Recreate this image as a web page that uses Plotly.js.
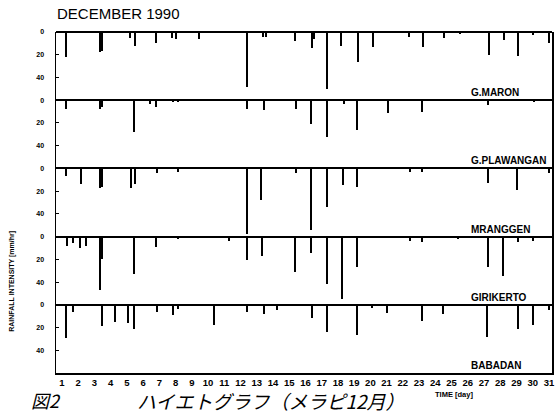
<!DOCTYPE html>
<html>
<head>
<meta charset="utf-8">
<script src="https://cdn.plot.ly/plotly-3.0.1.min.js"></script>
<style>html,body{margin:0;padding:0;background:#fff;}#chart{width:555px;height:416px;}</style>
</head>
<body>
<div id="chart"></div>
<script>
// Station names (top to bottom)
var stations = ["G.MARON", "G.PLAWANGAN", "MRANGGEN", "GIRIKERTO", "BABADAN"];
// Day labels on time axis
var dayLabels = [];
for (var d = 1; d <= 31; d++) dayLabels.push(d);

// Rainfall intensity [mm/hr] at times (days, December 1990)
var maronT = [1.23, 3.34, 3.46, 5.19, 5.50, 6.79, 7.78, 8.02, 9.44, 12.40, 13.38, 13.57, 15.36, 16.40, 16.50, 17.33, 18.17, 19.24, 20.16, 22.38, 23.24, 24.54, 25.52, 27.31, 28.23, 29.10, 30.02, 31.01];
var maronV = [22, 18, 17, 5, 12, 10, 5, 6, 6, 48, 4, 4, 8, 14, 6, 50, 12, 26, 13, 4, 13, 5, 2, 20, 7, 21, 3, 10];

var plawT = [1.23, 3.34, 3.45, 5.45, 6.42, 6.79, 7.84, 8.15, 12.38, 13.45, 15.42, 16.32, 17.33, 18.37, 19.18, 21.07, 23.18, 25.21, 27.25, 30.08];
var plawV = [8, 8, 6, 28, 3, 6, 2, 2, 8, 9, 8, 21, 32, 3, 26, 11, 10, 1, 4, 2];

var mranT = [1.23, 2.17, 3.36, 3.46, 5.25, 5.50, 6.83, 8.15, 12.38, 13.26, 15.42, 16.32, 17.31, 18.30, 19.18, 22.44, 23.18, 27.25, 29.03, 31.00];
var mranV = [7, 14, 17, 16, 17, 14, 4, 3, 58, 28, 4, 54, 34, 15, 16, 3, 3, 13, 19, 4];

var giriT = [1.29, 1.66, 2.11, 2.48, 3.34, 3.47, 5.44, 6.77, 8.15, 11.31, 12.38, 13.30, 15.36, 16.32, 17.31, 18.27, 19.18, 22.44, 23.20, 25.40, 27.27, 28.15, 29.10, 30.02];
var giriV = [8, 6, 10, 8, 47, 20, 33, 9, 2, 4, 21, 17, 31, 14, 42, 55, 27, 4, 5, 2, 27, 35, 5, 4];

var babaT = [1.23, 1.66, 3.45, 4.27, 5.09, 5.45, 6.83, 7.82, 8.15, 10.37, 12.38, 13.46, 14.27, 16.42, 17.31, 19.16, 20.10, 21.04, 23.16, 24.46, 27.20, 29.08, 30.04, 31.03];
var babaV = [29, 6, 19, 15, 16, 21, 6, 9, 4, 18, 6, 8, 5, 12, 24, 27, 3, 7, 14, 8, 28, 21, 18, 5];

var seriesT = [maronT, plawT, mranT, giriT, babaT];
var seriesV = [maronV, plawV, mranV, giriV, babaV];
var yTicks = [0, 20, 40];

var traces = [];
var layout = {
  width: 555, height: 416,
  margin: {l: 56, r: 3, t: 32, b: 43, pad: 0},
  paper_bgcolor: "#fff", plot_bgcolor: "#fff",
  showlegend: false,
  bargap: 0,
  font: {family: "Liberation Sans, Arial, sans-serif", color: "#000"},
  title: {
    text: "DECEMBER 1990",
    font: {size: 15, family: "Liberation Sans, Arial, sans-serif", color: "#000"},
    xref: "paper", x: 0.002, xanchor: "left",
    yref: "container", y: 0.967, yanchor: "middle"
  },
  xaxis: {
    anchor: "y5",
    range: [0.63, 31.19],
    tickmode: "array",
    tickvals: dayLabels,
    ticktext: dayLabels.map(function(v){ return "<b>" + v + "</b>"; }),
    ticks: "",
    tickfont: {size: 9.5, family: "Liberation Sans, Arial, sans-serif"},
    showgrid: false, zeroline: false,
    showline: true, linecolor: "#000", linewidth: 1.5,
    fixedrange: true
  },
  annotations: [],
  shapes: []
};

for (var i = 0; i < 5; i++) {
  var yname = i === 0 ? "y" : "y" + (i + 1);
  var axname = i === 0 ? "yaxis" : "yaxis" + (i + 1);
  traces.push({
    type: "bar",
    x: seriesT[i],
    y: seriesV[i],
    width: 0.12,
    xaxis: "x",
    yaxis: yname,
    marker: {color: "#000", line: {width: 0}},
    hoverinfo: "x+y"
  });
  layout[axname] = {
    domain: [1 - (i + 1) / 5, 1 - i / 5],
    range: [60, 0],
    anchor: "x",
    tickmode: "array",
    tickvals: yTicks,
    ticktext: yTicks.map(function(v){ return "<b>" + v + "</b>"; }),
    ticks: "inside", ticklen: 3, tickwidth: 1, tickcolor: "#000",
    tickfont: {size: 7, family: "Liberation Sans, Arial, sans-serif"},
    ticklabelstandoff: 9,
    showgrid: false,
    zeroline: true, zerolinecolor: "#000", zerolinewidth: 2,
    showline: true, linecolor: "#000", linewidth: 1.5, mirror: true,
    fixedrange: true
  };
  layout.annotations.push({
    text: "<b>" + stations[i] + "</b>",
    xref: "paper", yref: "paper",
    x: 0.833, xanchor: "left",
    y: 1 - (i + 1) / 5, yanchor: "bottom", yshift: 0,
    showarrow: false,
    font: {size: 10, family: "Liberation Sans, Arial, sans-serif", color: "#000"}
  });
}

layout.annotations.push({
  text: "<b>RAINFALL INTENSITY [mm/hr]</b>",
  xref: "paper", yref: "paper",
  x: -0.089, y: 0.27, xanchor: "center", yanchor: "middle",
  textangle: -90, showarrow: false,
  font: {size: 7, family: "Liberation Sans, Arial, sans-serif", color: "#000"}
});
layout.annotations.push({
  text: "<b>TIME [day]</b>",
  xref: "paper", yref: "paper",
  x: 0.760, y: -0.062, xanchor: "left", yanchor: "middle",
  showarrow: false,
  font: {size: 7.5, family: "Liberation Sans, Arial, sans-serif", color: "#000"}
});
layout.annotations.push({
  text: "<i>図2</i>",
  xref: "paper", yref: "paper",
  x: -0.054, y: -0.080, xanchor: "left", yanchor: "middle",
  showarrow: false,
  font: {size: 18, family: "Noto Sans CJK JP, sans-serif", color: "#000"}
});
layout.annotations.push({
  text: "<i>ハイエトグラフ（メラピ12月）</i>",
  xref: "paper", yref: "paper",
  x: 0.16, y: -0.080, xanchor: "left", yanchor: "middle",
  showarrow: false,
  font: {size: 19, family: "Noto Sans CJK JP, sans-serif", color: "#000"}
});

Plotly.newPlot("chart", traces, layout, {displayModeBar: false, staticPlot: true});
</script>
</body>
</html>
